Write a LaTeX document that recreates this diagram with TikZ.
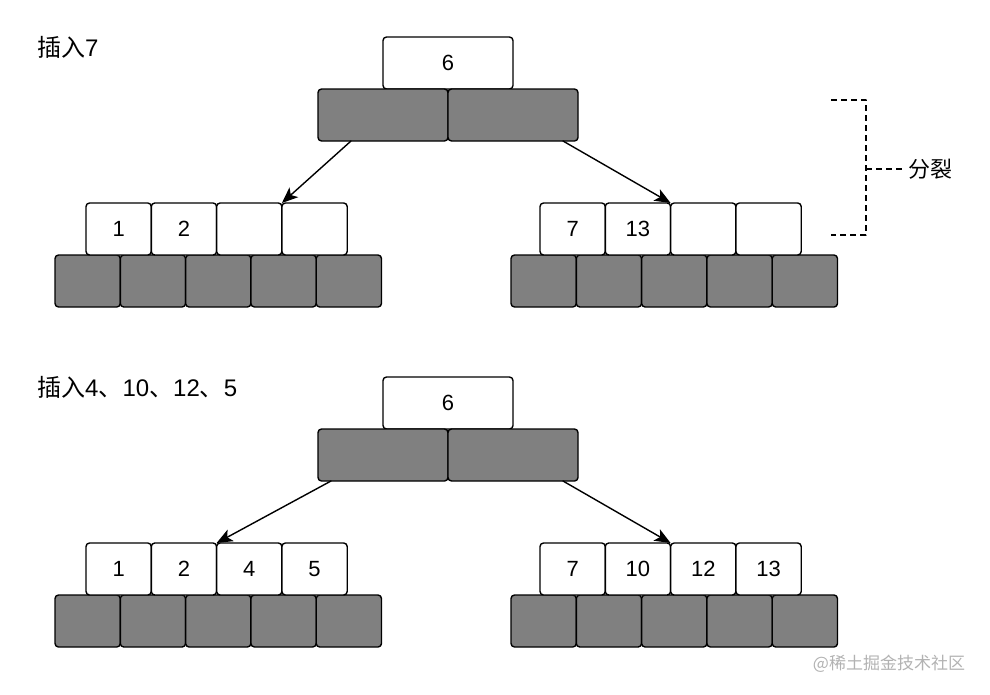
\documentclass[tikz,border=0pt]{standalone}
\usepackage{fontspec}
\setmainfont{Liberation Sans}
\newfontfamily\cjk{Noto Sans CJK SC}
\usetikzlibrary{positioning,arrows.meta}

\begin{document}
\begin{tikzpicture}[line cap=round,line join=round,x=1pt,y=-1pt,
  >={Stealth[length=16pt,width=13pt,inset=4pt]},
  key/.style={draw,line width=1.4pt,rounded corners=3.5pt,fill=white,inner sep=0pt,outer sep=0pt,
    minimum width=65.3pt,minimum height=52pt,font=\fontsize{22}{26}\selectfont},
  rootkey/.style={key,minimum width=130pt},
  ptr/.style={key,fill=gray},
  rootptr/.style={rootkey,fill=gray},
  link/.style={->,line width=1.4pt},
  split/.style={line width=1.4pt,dash pattern=on 6pt off 4pt,line cap=butt},
  title/.style={anchor=west,inner sep=0pt,font=\fontsize{24}{28}\selectfont}]
\useasboundingbox (0,0) rectangle (990,694);

% insert 7
\node[title] (t1) at (37,47) {{\cjk 插入}7};
\node[rootkey] (r1k) at (448,63) {6};
\node[rootptr,anchor=north east] (r1l) at (r1k.south) {};
\node[rootptr,right=0pt of r1l] (r1r) {};

\node[ptr] (a1p1) at (87.65,281) {};
\foreach \i [count=\j from 2] in {1,...,4}
  \node[ptr,right=0pt of a1p\i] (a1p\j) {};
\node[key,anchor=south west] (a1k1) at ([xshift=31pt]a1p1.north west) {1};
\node[key,right=0pt of a1k1] (a1k2) {2};
\node[key,right=0pt of a1k2] (a1k3) {};
\node[key,right=0pt of a1k3] (a1k4) {};

\node[ptr] (b1p1) at (543.65,281) {};
\foreach \i [count=\j from 2] in {1,...,4}
  \node[ptr,right=0pt of b1p\i] (b1p\j) {};
\node[key,anchor=south west] (b1k1) at ([xshift=29pt]b1p1.north west) {7};
\node[key,right=0pt of b1k1] (b1k2) {13};
\node[key,right=0pt of b1k2] (b1k3) {};
\node[key,right=0pt of b1k3] (b1k4) {};

\draw[link] ([xshift=-32pt]r1l.south) -- (a1k4.north west);
\draw[link] ([xshift=50pt]r1r.south) -- (b1k3.north west);

% split bracket
\coordinate (s1) at (831,100);
\coordinate (s2) at (866,100);
\coordinate (s3) at (866,235);
\coordinate (s4) at (831,235);
\node[anchor=west,inner sep=0pt,font=\cjk\fontsize{22}{26}\selectfont] (sp) at (908,169) {分裂};
\draw[split] (s1) -- (s2) -- (s3) -- (s4);
\draw[split] (s2 |- sp.west) -- ([xshift=-4pt]sp.west);

% insert 4, 10, 12, 5
\node[title] (t2) at (37,387) {{\cjk 插入}4{\cjk 、}10{\cjk 、}12{\cjk 、}5};
\node[rootkey] (r2k) at (448,403) {6};
\node[rootptr,anchor=north east] (r2l) at (r2k.south) {};
\node[rootptr,right=0pt of r2l] (r2r) {};

\node[ptr] (a2p1) at (87.65,621) {};
\foreach \i [count=\j from 2] in {1,...,4}
  \node[ptr,right=0pt of a2p\i] (a2p\j) {};
\node[key,anchor=south west] (a2k1) at ([xshift=31pt]a2p1.north west) {1};
\node[key,right=0pt of a2k1] (a2k2) {2};
\node[key,right=0pt of a2k2] (a2k3) {4};
\node[key,right=0pt of a2k3] (a2k4) {5};

\node[ptr] (b2p1) at (543.65,621) {};
\foreach \i [count=\j from 2] in {1,...,4}
  \node[ptr,right=0pt of b2p\i] (b2p\j) {};
\node[key,anchor=south west] (b2k1) at ([xshift=29pt]b2p1.north west) {7};
\node[key,right=0pt of b2k1] (b2k2) {10};
\node[key,right=0pt of b2k2] (b2k3) {12};
\node[key,right=0pt of b2k3] (b2k4) {13};

\draw[link] ([xshift=-52pt]r2l.south) -- (a2k3.north west);
\draw[link] ([xshift=50pt]r2r.south) -- (b2k3.north west);

\node[text=gray!60,font=\cjk\fontsize{17}{20}\selectfont] (wm) at (889,664) {@稀土掘金技术社区};
\end{tikzpicture}
\end{document}
